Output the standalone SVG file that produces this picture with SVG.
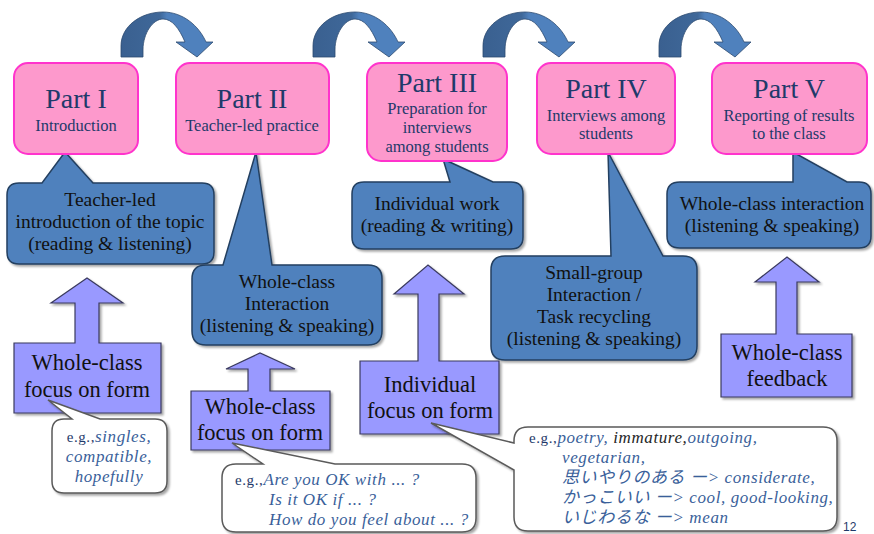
<svg xmlns="http://www.w3.org/2000/svg" width="874" height="534" viewBox="0 0 874 534">
<defs>
<linearGradient id="arcg" x1="0" y1="0" x2="1" y2="0">
<stop offset="0" stop-color="#3a6090"/>
<stop offset="0.42" stop-color="#3f6899"/>
<stop offset="0.5" stop-color="#4f81bd"/>
<stop offset="1" stop-color="#4f81bd"/>
</linearGradient>
<filter id="sh" x="-10%" y="-10%" width="130%" height="130%">
<feDropShadow dx="2" dy="2" stdDeviation="1.2" flood-color="#000" flood-opacity="0.35"/>
</filter>
<path id="arc" d="M0,57 L0,46 C0,26 20,12 42,12 C62,12 78,26 85,42 L92,42 L76,57 L55,42 L64,42 C58,28 51,19 42,19 C32,19 22,33 22,50 L22,57 Z"/>
</defs>
<style>
.pink{fill:#fd99cc;stroke:#ff33cc;stroke-width:2}
.ptitle{font-family:"Liberation Serif",serif;font-size:28px;fill:#1f3a6a;text-anchor:middle}
.psub{font-family:"Liberation Serif",serif;font-size:16.5px;fill:#1f3a6a;text-anchor:middle}
.dark{fill:#4f81bd;stroke:#243f60;stroke-width:1.5;filter:url(#sh)}
.dtxt{font-family:"Liberation Serif",serif;font-size:19.5px;fill:#111;text-anchor:middle}
.purp{fill:#9999ff;stroke:#3a3a5e;stroke-width:1.2;filter:url(#sh)}
.ptxt{font-family:"Liberation Serif",serif;font-size:22.5px;fill:#111;text-anchor:middle}
.bub{fill:#fff;stroke:#5a5a5a;stroke-width:1.5;filter:url(#sh)}
.btxt{font-family:"Liberation Serif","Noto Sans CJK JP",serif;font-size:17px;letter-spacing:0.6px;fill:#3a5f9a;font-style:italic}
.eg{font-style:normal;fill:#1f3a6a;font-size:15px}
.blk{fill:#262626}
.arcs{fill:url(#arcg);stroke:#2c4a70;stroke-width:0.8}
</style>
<g id="connectors">
<use href="#arc" class="arcs" x="121" y="0"/>
<use href="#arc" class="arcs" x="313" y="0"/>
<use href="#arc" class="arcs" x="483" y="0"/>
<use href="#arc" class="arcs" x="659" y="0"/>
</g>
<g id="callout-teacher-led">
<path class="dark" d="M19,183 L42,183 L65,152 L93,183 L202,183 Q214,183 214,195 L214,252 Q214,264 202,264 L19,264 Q7,264 7,252 L7,195 Q7,183 19,183 Z"/>
<text class="dtxt" x="110" y="206">Teacher-led</text>
<text class="dtxt" x="110" y="228">introduction of the topic</text>
<text class="dtxt" x="110" y="250">(reading &amp; listening)</text>
</g>
<g id="callout-whole-class-interaction">
<path class="dark" d="M206,265 L223,265 L256,152 L272,265 L368,265 Q382,265 382,279 L382,331 Q382,345 368,345 L206,345 Q192,345 192,331 L192,279 Q192,265 206,265 Z"/>
<text class="dtxt" x="287" y="288">Whole-class</text>
<text class="dtxt" x="287" y="310">Interaction</text>
<text class="dtxt" x="287" y="332">(listening &amp; speaking)</text>
</g>
<g id="callout-individual-work">
<path class="dark" d="M364,182 L450,182 L443,159 L493,182 L511,182 Q523,182 523,194 L523,237 Q523,249 511,249 L364,249 Q352,249 352,237 L352,194 Q352,182 364,182 Z"/>
<text class="dtxt" x="437" y="210">Individual work</text>
<text class="dtxt" x="437" y="232">(reading &amp; writing)</text>
</g>
<g id="callout-small-group">
<path class="dark" d="M505,256 L611,256 L608,152 L663,256 L683,256 Q697,256 697,270 L697,346 Q697,360 683,360 L505,360 Q491,360 491,346 L491,270 Q491,256 505,256 Z"/>
<text class="dtxt" x="594" y="279">Small-group</text>
<text class="dtxt" x="594" y="301">Interaction /</text>
<text class="dtxt" x="594" y="323">Task recycling</text>
<text class="dtxt" x="594" y="345">(listening &amp; speaking)</text>
</g>
<g id="callout-whole-class-interaction-2">
<path class="dark" d="M680,182 L793,182 L793,152 L847,182 L859,182 Q871,182 871,194 L871,236 Q871,248 859,248 L680,248 Q667,248 667,236 L667,194 Q667,182 680,182 Z"/>
<text class="dtxt" x="772" y="210">Whole-class interaction</text>
<text class="dtxt" x="772" y="232">(listening &amp; speaking)</text>
</g>
<g id="part1">
<rect class="pink" x="14" y="63" width="124" height="91" rx="14"/>
<text class="ptitle" x="76" y="108">Part I</text>
<text class="psub" x="76" y="131">Introduction</text>
</g>
<g id="part2">
<rect class="pink" x="176" y="63" width="153" height="91" rx="14"/>
<text class="ptitle" x="252" y="108">Part II</text>
<text class="psub" x="252" y="131">Teacher-led practice</text>
</g>
<g id="part3">
<rect class="pink" x="367" y="63" width="140" height="98" rx="14"/>
<text class="ptitle" x="437" y="92">Part III</text>
<text class="psub" x="437" y="114">Preparation for</text>
<text class="psub" x="437" y="133">interviews</text>
<text class="psub" x="437" y="152">among students</text>
</g>
<g id="part4">
<rect class="pink" x="537" y="63" width="138" height="91" rx="14"/>
<text class="ptitle" x="606" y="98">Part IV</text>
<text class="psub" x="606" y="121">Interviews among</text>
<text class="psub" x="606" y="139">students</text>
</g>
<g id="part5">
<rect class="pink" x="712" y="63" width="155" height="91" rx="14"/>
<text class="ptitle" x="789" y="98">Part V</text>
<text class="psub" x="789" y="121">Reporting of results</text>
<text class="psub" x="789" y="139">to the class</text>
</g>
<g id="focus1">
<path class="purp" d="M14,343 L75,343 L75,303 L51,303 L87,278 L123,303 L99,303 L99,343 L161,343 L161,413 L14,413 Z"/>
<text class="ptxt" x="87" y="370">Whole-class</text>
<text class="ptxt" x="87" y="397">focus on form</text>
</g>
<g id="focus2">
<path class="purp" d="M191,391 L248,391 L248,369 L226,369 L260,353 L295,369 L270,369 L270,391 L330,391 L330,450 L191,450 Z"/>
<text class="ptxt" x="260" y="414">Whole-class</text>
<text class="ptxt" x="260" y="440">focus on form</text>
</g>
<g id="focus3">
<path class="purp" d="M360,361 L418,361 L418,294 L394,294 L428,265 L464,294 L439,294 L439,361 L499,361 L499,434 L360,434 Z"/>
<text class="ptxt" x="430" y="392">Individual</text>
<text class="ptxt" x="430" y="418">focus on form</text>
</g>
<g id="feedback">
<path class="purp" d="M721,334 L776,334 L776,282 L755,282 L787,257 L819,282 L797,282 L797,334 L852,334 L852,397 L721,397 Z"/>
<text class="ptxt" x="787" y="360">Whole-class</text>
<text class="ptxt" x="787" y="386">feedback</text>
</g>
<g id="example1">
<path class="bub" d="M64,419 L72,419 L48,400 L100,419 L155,419 Q167,419 167,431 L167,481 Q167,493 155,493 L64,493 Q52,493 52,481 L52,431 Q52,419 64,419 Z"/>
<text class="btxt" x="109" y="442" text-anchor="middle"><tspan class="eg">e.g.,</tspan>singles,</text>
<text class="btxt" x="109" y="462" text-anchor="middle">compatible,</text>
<text class="btxt" x="109" y="482" text-anchor="middle">hopefully</text>
</g>
<g id="example2">
<path class="bub" d="M236,464 L263,464 L232,443 L335,464 L462,464 Q476,464 476,478 L476,518 Q476,532 462,532 L236,532 Q222,532 222,518 L222,478 Q222,464 236,464 Z"/>
<text class="btxt" x="235" y="485"><tspan class="eg">e.g.,</tspan>Are you OK with ... ?</text>
<text class="btxt" x="269" y="505">Is it OK if ... ?</text>
<text class="btxt" x="269" y="525">How do you feel about ... ?</text>
</g>
<g id="example3">
<path class="bub" d="M528,427 L823,427 Q837,427 837,441 L837,517 Q837,531 823,531 L528,531 Q514,531 514,517 L514,470 L431,423 L514,443 L514,441 Q514,427 528,427 Z"/>
<text class="btxt" x="529" y="443"><tspan class="eg">e.g.,</tspan>poetry, <tspan class="blk">immature,</tspan>outgoing,</text>
<text class="btxt" x="562" y="463">vegetarian,</text>
<text class="btxt" x="562" y="483">思いやりのある ー&gt; considerate,</text>
<text class="btxt" x="562" y="503">かっこいい ー&gt; cool, good-looking,</text>
<text class="btxt" x="562" y="523">いじわるな ー&gt; mean</text>
</g>
<text x="843" y="531" font-family="Liberation Sans, sans-serif" font-size="12" fill="#1f3a6a">12</text>
</svg>
